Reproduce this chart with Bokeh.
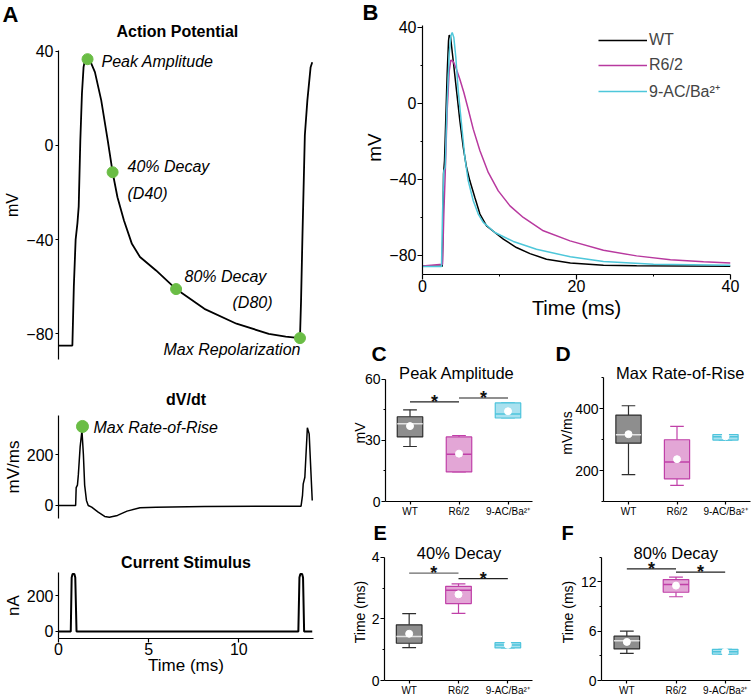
from math import pi
from bokeh.plotting import figure
from bokeh.layouts import row, column
from bokeh.models import Label, Legend, LegendItem, FixedTicker, Range1d, Title
from bokeh.embed import file_html
from bokeh.resources import INLINE

FONT = "Liberation Sans"

# ---------------- data ----------------
# Panel A: action potential (ms, mV)
ap_t = [0.0, 0.77, 0.85, 0.95, 1.05, 1.12, 1.21, 1.3, 1.39, 1.45, 1.61, 1.75, 2.02, 2.37, 2.73, 3.0,
        3.27, 3.63, 4.07, 4.52, 5.41, 6.52, 8.09, 9.87, 11.66, 12.6, 13.39, 13.45, 13.53, 13.66,
        13.8, 13.98, 14.07]
ap_v = [-85.0, -85.0, -60, -40, -33, -26, 2.1, 22, 33.2, 35.5, 36.9, 36.0, 31.1, 19.1, 2.1, -11.4,
        -22, -31.9, -41.8, -47.4, -53.1, -61, -69.4, -75.7, -80, -81.2, -81.8, -65.9, -37.5, 4.3,
        19.1, 33.2, 35.3]
ap_mark_t = [1.61, 3.0, 6.52, 13.39]
ap_mark_v = [36.6, -11.4, -61.0, -81.8]

# dV/dt (ms, mV/ms)
dv_t = [0.0, 0.95, 0.98, 1.05, 1.1, 1.2, 1.3, 1.38, 1.45, 1.55, 1.65, 1.84, 2.2, 2.56, 2.82, 3.27,
        3.8, 4.52, 5.41, 8.09, 11.0, 13.45, 13.53, 13.57, 13.66, 13.8, 13.9, 14.07]
dv_v = [0, 0, 70, 80, 120, 230, 294, 200, 80, 20, 0, -6.5, -26, -43, -46, -39,
        -22, -9, -6.5, -4, -3, -2.6, 40, 85, 111, 305, 281, 19.6]
rise_mark_t = [1.33]
rise_mark_v = [310]

# Current stimulus (ms, nA)
st_t = [0.0, 0.68, 0.73, 0.78, 0.88, 0.93, 1.0, 13.3, 13.36, 13.41, 13.51, 13.56, 13.62, 14.07]
st_v = [0, 0, 300, 320, 320, 300, 0, 0, 300, 320, 320, 300, 0, 0]

# Panel B traces (ms, mV)
wt_t = [0, 2.56, 2.64, 2.73, 2.86, 3.03, 3.2, 3.38, 3.47, 3.64, 3.99, 4.42, 4.85, 5.29, 5.72, 6.15,
        6.8, 7.46, 8.32, 9.4, 10.5, 12.2, 13.96, 16.1, 19.2, 23.5, 27.8, 40]
wt_v = [-85.6, -85.6, -68.8, -37.2, -30, -7.4, 15.4, 33, 36, 35.1, 22.5, 6.7, -9, -23, -33.7, -40.7,
        -49.5, -58.2, -64.4, -67.9, -71.4, -75.8, -79, -82, -84, -85.1, -85.4, -85.6]
r62_t = [0, 2.6, 2.77, 2.95, 3.2, 3.47, 3.68, 3.99, 4.33, 4.85, 5.37, 5.94, 6.59, 7.46, 8.54, 9.84,
         11.36, 13.09, 15.69, 19.16, 23.5, 27.8, 32.2, 36.5, 40]
r62_v = [-85.5, -84.6, -58, -37, -3.9, 17.2, 22.8, 22.1, 18.9, 12.8, 5.8, -3, -13.5, -24.9, -36.3, -46,
         -53.9, -60, -67, -72.3, -77.2, -80.2, -82.3, -83.3, -83.9]
ac_t = [0, 2.47, 2.6, 2.77, 2.95, 3.2, 3.47, 3.68, 3.86, 4.07, 4.33, 4.64, 5.07, 5.5, 5.94, 6.59,
        7.24, 7.89, 9.4, 11.8, 14.8, 19.2, 23.5, 30, 40]
ac_v = [-85.8, -85.8, -58, -35.4, -33.7, 1.4, 26, 35.6, 37.4, 34.7, 24.2, 6.7, -10.9, -28.4, -40.7, -51.2,
        -58.2, -62.6, -67.9, -72.6, -76.7, -80.7, -83.2, -84.6, -85.1]

# Box plots
groups = ["WT", "R6/2", "9-AC/Ba\u00b2\u207a"]
peak = dict(lo=[27, 14.5, 41], q1=[31.7, 14.5, 41], med=[38.2, 23.2, 43], q3=[41.6, 31.7, 48.4],
            hi=[45, 32.4, 48.4], mean=[37, 23.5, 44.3])
rate = dict(lo=[187, 152, 299], q1=[289, 173, 299], med=[316, 228, 310], q3=[380, 300, 317],
            hi=[410, 343, 317], mean=[318, 237, 311])
d40 = dict(lo=[1.07, 2.18, 1.06], q1=[1.21, 2.5, 1.06], med=[1.43, 2.93, 1.15], q3=[1.81, 3.06, 1.23],
           hi=[2.17, 3.14, 1.23], mean=[1.52, 2.8, 1.16])
d80 = dict(lo=[3.3, 10.2, 3.2], q1=[3.85, 10.75, 3.2], med=[4.85, 11.7, 3.5], q3=[5.4, 12.3, 3.8],
           hi=[6.02, 12.6, 3.8], mean=[4.7, 11.56, 3.48])
peak_sig = [48.9, 50.8]
d40_sig = [3.49, 3.31]
d80_sig = [13.6, 13.2]

# ---------------- styles ----------------
C_WT, C_R62, C_AC = "#000000", "#b8399f", "#4ec7da"
GREEN = "#6abd45"
box_fill = ["#8e8e8e", "#e3a6d6", "#a9e1ef"]
box_line = ["#2e2e2e", "#c040a8", "#4ec4dc"]
med_col = ["#e2e2e2", "#c040a8", "#4ec4dc"]
sig_cols = {"C": ["#222222", "#6a6a6a"], "E": ["#6a6a6a", "#222222"], "F": ["#222222", "#222222"]}


def make_fig(w, h, l, r, t, b, xr, yr, xaxis=True, yaxis=True):
    p = figure(width=w, height=h, x_range=xr, y_range=yr, output_backend="svg",
               toolbar_location=None, tools="",
               x_axis_location="below" if xaxis else None,
               y_axis_location="left" if yaxis else None,
               min_border_left=l, min_border_right=r, min_border_top=t, min_border_bottom=b)
    p.outline_line_color = None
    p.grid.visible = False
    p.background_fill_color = "white"
    p.border_fill_color = "white"
    return p


def text_strip(w, h, x0, y0):
    """A frame-only figure in pixel coordinates that holds panel letters and labels."""
    p = figure(width=w, height=h, x_range=Range1d(x0, x0 + w), y_range=Range1d(y0 + h, y0),
               output_backend="svg", toolbar_location=None, tools="",
               x_axis_location=None, y_axis_location=None,
               min_border_left=0, min_border_right=0, min_border_top=0, min_border_bottom=0)
    p.outline_line_color = None
    p.grid.visible = False
    if "frame_align" in p.properties():
        p.frame_align = False
    return p


def style_axis(ax, size, ticks, minor=None, tick_out=4, standoff=2, overrides=None, bounds=None):
    ax.ticker = FixedTicker(ticks=ticks, minor_ticks=minor or [])
    ax.major_label_text_font = FONT
    ax.major_label_text_font_size = f"{size}px"
    ax.major_label_text_color = "black"
    ax.axis_line_color = "black"
    ax.axis_line_width = 1.2
    ax.major_tick_line_color = "black"
    ax.major_tick_line_width = 1.2
    ax.major_tick_out = tick_out
    ax.major_tick_in = 0
    ax.minor_tick_out = 2
    ax.minor_tick_in = 0
    ax.minor_tick_line_color = "black" if minor else None
    ax.major_label_standoff = standoff
    if overrides:
        ax.major_label_overrides = overrides
    if bounds:
        ax.bounds = bounds


def axis_label(ax, text, size, standoff):
    ax.axis_label = text
    ax.axis_label_text_font = FONT
    ax.axis_label_text_font_size = f"{size}px"
    ax.axis_label_text_font_style = "normal"
    ax.axis_label_text_color = "black"
    ax.axis_label_standoff = standoff


def lab(p, fl, fb, px, py, text, size, style="normal", align="left", color="black"):
    p.add_layout(Label(x=px - fl, y=fb - py, x_units="screen", y_units="screen", text=text,
                       text_font=FONT, text_font_size=f"{size}px", text_font_style=style,
                       text_align=align, text_baseline="middle", text_color=color))


def dlab(p, x, y, text, size, style="normal", align="left", angle=0.0):
    p.add_layout(Label(x=x, y=y, text=text, text_font=FONT, text_font_size=f"{size}px",
                       text_font_style=style, text_align=align, text_baseline="middle",
                       text_color="black", angle=angle))


def title(p, text, size, style="bold", align="left", offset=0, standoff=0, place="above"):
    p.add_layout(Title(text=text, text_font=FONT, text_font_size=f"{size}px", text_font_style=style,
                       text_color="black", align=align, offset=offset, standoff=standoff,
                       vertical_align="bottom"), place)


# ---------------- Panel A (left column) ----------------
hdrA = text_strip(348, 44, 0, 0)
dlab(hdrA, 2, 14, "A", 22, "bold")
dlab(hdrA, 116, 31, "Action Potential", 16, "bold")

pA = make_fig(348, 318, 49, 35, 6, 3, Range1d(0, 14.14), Range1d(-90.9, 40.28), xaxis=False)
style_axis(pA.yaxis[0], 16, [-80, -40, 0, 40], tick_out=3, standoff=2)
axis_label(pA.yaxis[0], "mV", 16, 2)
pA.line(ap_t, ap_v, line_color="black", line_width=1.8)
pA.scatter(ap_mark_t, ap_mark_v, size=11, fill_color=GREEN, line_color=GREEN)
FL, FB = 49, 359
lab(pA, FL, FB, 92, 61, "Peak Amplitude", 16, "italic")
lab(pA, FL, FB, 118, 166, "40% Decay", 16, "italic")
lab(pA, FL, FB, 118, 193, "(D40)", 16, "italic")
lab(pA, FL, FB, 175, 276, "80% Decay", 16, "italic")
lab(pA, FL, FB, 223, 302, "(D80)", 16, "italic")
lab(pA, FL, FB, 154, 349, "Max Repolarization", 16, "italic")

pDV = make_fig(348, 166, 49, 35, 53, 10, Range1d(0, 14.14), Range1d(-51, 353), xaxis=False)
style_axis(pDV.yaxis[0], 16, [0, 200], tick_out=3, standoff=2)
axis_label(pDV.yaxis[0], "mV/ms", 17, 1)
pDV.line(dv_t, dv_v, line_color="black", line_width=1.5)
pDV.scatter(rise_mark_t, rise_mark_v, size=12, fill_color=GREEN, line_color=GREEN)
title(pDV, "dV/dt", 16, "bold", "center", 0, 16)
lab(pDV, 49, 518, 84, 427, "Max Rate-of-Rise", 16, "italic")

pS = make_fig(348, 170, 49, 35, 44, 60, Range1d(0, 14.14), Range1d(-39, 328))
style_axis(pS.yaxis[0], 16, [0, 200], tick_out=3, standoff=2)
axis_label(pS.yaxis[0], "nA", 17, 1)
style_axis(pS.xaxis[0], 16, [0, 5, 10], tick_out=4, standoff=0)
axis_label(pS.xaxis[0], "Time (ms)", 17, -2)
pS.line(st_t, st_v, line_color="black", line_width=2)
title(pS, "Current Stimulus", 16, "bold", "center", 0, 4)

# ---------------- Panel B ----------------
hdrB = text_strip(37, 330, 348, 0)
dlab(hdrB, 362, 12, "B", 22, "bold")
dlab(hdrB, 374, 147, "mV", 19, align="center", angle=pi / 2)

pB = make_fig(367, 330, 37, 22, 25, 56, Range1d(0, 40), Range1d(-90, 41.05))
style_axis(pB.yaxis[0], 16, [-80, -40, 0, 40], [-60, -20, 20], tick_out=5, standoff=1)
style_axis(pB.xaxis[0], 16, [0, 20, 40], [10, 30], tick_out=5, standoff=0)
axis_label(pB.xaxis[0], "Time (ms)", 20, 2)
r1 = pB.line(wt_t, wt_v, line_color=C_WT, line_width=1.5)
r2 = pB.line(r62_t, r62_v, line_color=C_R62, line_width=1.5)
r3 = pB.line(ac_t, ac_v, line_color=C_AC, line_width=1.5)
leg = Legend(items=[LegendItem(label=groups[0], renderers=[r1]),
                    LegendItem(label=groups[1], renderers=[r2]),
                    LegendItem(label=groups[2], renderers=[r3])],
             location=(176, 172))
leg.label_text_font = FONT
leg.label_text_font_size = "16px"
leg.glyph_width = 49
leg.glyph_height = 20
leg.label_height = 20
leg.label_standoff = 2
leg.spacing = 5
leg.padding = 0
leg.margin = 0
leg.border_line_color = None
leg.background_fill_alpha = 0
pB.add_layout(leg)

# ---------------- Box panels ----------------
xs = list(range(1, len(groups) + 1))
cat_over = {x: g for x, g in zip(xs, groups)}
CAP = 0.14
BW = 0.52


def box_panel(p, d, sig, sig_c):
    p.segment(x0=xs, y0=d["q3"], x1=xs, y1=d["hi"], line_color=box_line, line_width=1.2)
    p.segment(x0=xs, y0=d["lo"], x1=xs, y1=d["q1"], line_color=box_line, line_width=1.2)
    p.segment(x0=[x - CAP for x in xs], y0=d["hi"], x1=[x + CAP for x in xs], y1=d["hi"],
              line_color=box_line, line_width=1.2)
    p.segment(x0=[x - CAP for x in xs], y0=d["lo"], x1=[x + CAP for x in xs], y1=d["lo"],
              line_color=box_line, line_width=1.2)
    p.vbar(x=xs, bottom=d["q1"], top=d["q3"], width=BW, fill_color=box_fill, line_color=box_line,
           line_width=1.2)
    p.segment(x0=[x - BW / 2 for x in xs], y0=d["med"], x1=[x + BW / 2 for x in xs], y1=d["med"],
              line_color=med_col, line_width=1.5)
    p.scatter(xs, d["mean"], size=7, fill_color="white", line_color="white")
    if sig:
        for i, yv in enumerate(sig):
            p.segment(x0=[xs[i]], y0=[yv], x1=[xs[i + 1]], y1=[yv], line_color=sig_c[i], line_width=1.3)
            p.add_layout(Label(x=(xs[i] + xs[i + 1]) / 2, y=yv, text="*", text_font=FONT,
                               text_font_size="18px", text_font_style="bold", text_align="center",
                               text_baseline="middle", text_color="#111111"))


def box_axes(p, yticks, yminor, bounds):
    style_axis(p.yaxis[0], 14, yticks, yminor, tick_out=4, standoff=1, bounds=bounds)
    style_axis(p.xaxis[0], 10, xs, tick_out=3, standoff=1, overrides=cat_over)


# C: frame x 381..532, y 364..503 (axis 0..60)
pC = make_fig(208, 213, 33, 24, 34, 40, Range1d(0.5, 3.5), Range1d(0, 67.25))
box_axes(pC, [0, 30, 60], [15, 45], (0, 60))
axis_label(pC.yaxis[0], "mV", 14, -6)
box_panel(pC, peak, peak_sig, sig_cols["C"])
dlab(pC, 0.778, 62.9, "Peak Amplitude", 16.5)
title(pC, "C", 21, "bold", "left", -14, 0)
title(pC, "E", 20, "bold", "left", -12, 0, place="below")

# D: frame x 597..750, y 364..503 (axis 100..500)
pD = make_fig(196, 213, 41, 2, 34, 40, Range1d(0.485, 3.515), Range1d(100, 543.6))
box_axes(pD, [200, 400], [100, 300, 500], (100, 500))
axis_label(pD.yaxis[0], "mV/ms", 14, -3)
box_panel(pD, rate, None, None)
dlab(pD, 0.742, 515, "Max Rate-of-Rise", 16.5)
title(pD, "D", 21, "bold", "left", -48, 0)
title(pD, "F", 20, "bold", "left", -42, 0, place="below")

# E: frame x 381..532, y 543..681 (axis 0..4)
pE = make_fig(208, 155, 33, 24, 0, 17, Range1d(0.5, 3.5), Range1d(0, 4.452))
box_axes(pE, [0, 2, 4], [1, 3], (0, 4))
axis_label(pE.yaxis[0], "Time (ms)", 14, 1)
box_panel(pE, d40, d40_sig, sig_cols["E"])
dlab(pE, 1.156, 4.13, "40% Decay", 16.5)

# F: frame x 597..750, y 543..681 (axis 0..15)
pF = make_fig(196, 155, 41, 2, 0, 17, Range1d(0.485, 3.515), Range1d(0, 16.69))
box_axes(pF, [0, 6, 12], [3, 9, 15], (0, 15))
axis_label(pF.yaxis[0], "Time (ms)", 14, 2)
box_panel(pF, d80, d80_sig, sig_cols["F"])
dlab(pF, 1.138, 15.48, "80% Decay", 16.5)

left = column(hdrA, pA, pDV, pS)
right = column(row(hdrB, pB), row(pC, pD), row(pE, pF))
root = row(left, right)

open("out.html", "w").write(file_html(root, INLINE))
